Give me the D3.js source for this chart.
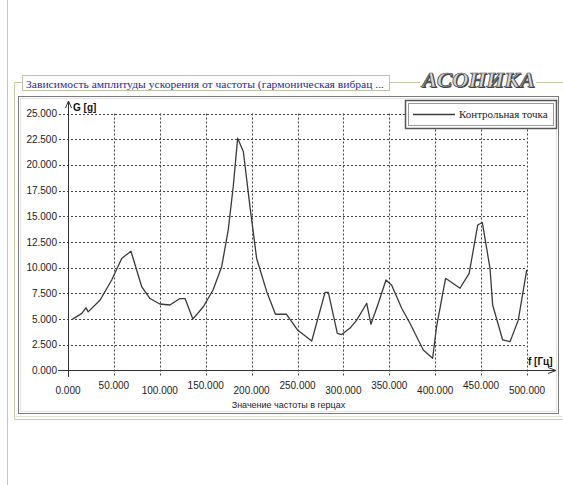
<!DOCTYPE html>
<html>
<head>
<meta charset="utf-8">
<script src="https://cdn.jsdelivr.net/npm/d3@7"></script>
<style>
  html, body { margin: 0; padding: 0; background: #ffffff; }
  svg { display: block; }
</style>
</head>
<body>
<svg id="chart" width="563" height="485"></svg>
<script>
// Frequency (Hz) and acceleration amplitude (g) at the control point
const freqHz = [5, 15, 19.6, 22, 35, 47.6, 58.5, 68.6, 80.3, 89.3, 100, 111, 122, 127.5, 136, 147.4,
  158, 167.4, 174.6, 180, 184.8, 191, 198.3, 205.5, 216.5, 226, 238, 250, 265.5, 280, 283.6, 293.4,
  298, 307, 314.5, 325.4, 330, 337.4, 346.4, 352.6, 363.5, 372.5, 387, 397.2, 401.5, 411.3, 427,
  437, 446.3, 451.3, 459.7, 462.6, 473.5, 481.5, 490.5, 499.7];
const amplitudeG = [5.0, 5.56, 6.1, 5.7, 6.86, 8.8, 10.9, 11.6, 8.15, 7.0, 6.47, 6.37, 7.0, 7.0, 5.0, 6.2,
  7.83, 10.1, 13.7, 17.9, 22.6, 21.3, 15.9, 10.9, 7.67, 5.47, 5.47, 3.94, 2.87, 7.6, 7.6, 3.62,
  3.5, 4.1, 4.9, 6.54, 4.5, 6.37, 8.8, 8.3, 6.05, 4.6, 2.0, 1.19, 4.26, 8.97, 8.0,
  9.45, 14.15, 14.4, 9.94, 6.37, 2.97, 2.8, 4.9, 9.78];
const xTicks = [0, 50, 100, 150, 200, 250, 300, 350, 400, 450, 500];
const yTicks = [0, 2.5, 5, 7.5, 10, 12.5, 15, 17.5, 20, 22.5, 25];
const titleText = "Зависимость амплитуды ускорения от частоты (гармоническая вибрац ...";
const seriesName = "Контрольная точка";
const xAxisTitle = "Значение частоты в герцах";
const xUnit = "f [Гц]";
const yUnit = "G [g]";
const brand = "АСОНИКА";

const svg = d3.select("#chart");
const sans = "'Liberation Sans', Arial, sans-serif";
const serif = "'Liberation Serif', 'Times New Roman', serif";

const x = d3.scaleLinear().domain([0, 500]).range([68, 527]);
const y = d3.scaleLinear().domain([0, 25]).range([370.5, 113.5]);

// page edge line
svg.append("line").attr("x1", 7.5).attr("x2", 7.5).attr("y1", 0).attr("y2", 485)
  .attr("stroke", "#c4c4c4");

// group frame (olive)
const frame = svg.append("g").attr("fill", "none").attr("stroke", "#c9c9a6");
frame.append("path").attr("d", "M22,82.5 H14.5 V419.5 H563");
frame.append("path").attr("d", "M390,82.5 H420");
frame.append("path").attr("d", "M536,82.5 H563");

// inner panel
svg.append("rect").attr("x", 18.5).attr("y", 96.5).attr("width", 540).attr("height", 317)
  .attr("fill", "#ffffff").attr("stroke", "#7a7a7a");
svg.append("rect").attr("x", 20.5).attr("y", 98.5).attr("width", 536).attr("height", 313)
  .attr("fill", "none").attr("stroke", "#e4e4e4");
svg.append("path").attr("d", "M15.5,416.5 H562").attr("stroke", "#e2e2cf").attr("fill", "none");

// title box
svg.append("rect").attr("x", 22.5).attr("y", 75.5).attr("width", 367).attr("height", 15)
  .attr("fill", "#ffffff").attr("stroke", "#c2c2a8");
svg.append("text").attr("x", 26).attr("y", 87.5)
  .attr("font-family", serif).attr("font-size", 11).attr("fill", "#2a2a9a")
  .attr("textLength", 358).attr("lengthAdjust", "spacingAndGlyphs")
  .text(titleText);

// brand logo
svg.append("text").attr("x", 422).attr("y", 87)
  .attr("font-family", serif).attr("font-size", 21).attr("font-weight", "bold").attr("font-style", "italic")
  .attr("fill", "#444").attr("textLength", 113).attr("lengthAdjust", "spacingAndGlyphs")
  .attr("transform", "translate(1,1)")
  .text(brand);
svg.append("text").attr("x", 422).attr("y", 87)
  .attr("font-family", serif).attr("font-size", 21).attr("font-weight", "bold").attr("font-style", "italic")
  .attr("fill", "#d8d8d8").attr("stroke", "#3a3a3a").attr("stroke-width", 0.7)
  .attr("textLength", 113).attr("lengthAdjust", "spacingAndGlyphs")
  .text(brand);

// grid
const grid = svg.append("g").attr("stroke", "#444").attr("stroke-width", 1).attr("stroke-dasharray", "2,2");
grid.selectAll("line.h").data(yTicks.filter(d => d > 0)).join("line")
  .attr("x1", 59).attr("x2", x(500))
  .attr("y1", d => Math.round(y(d)) + 0.5).attr("y2", d => Math.round(y(d)) + 0.5);
grid.selectAll("line.v").data(xTicks.filter(d => d > 0)).join("line")
  .attr("x1", d => Math.round(x(d)) + 0.5).attr("x2", d => Math.round(x(d)) + 0.5)
  .attr("y1", y(25)).attr("y2", 377);

// axes lines with arrows
const axisG = svg.append("g").attr("stroke", "#333").attr("fill", "none");
axisG.append("line").attr("x1", 58).attr("x2", 556).attr("y1", 370.5).attr("y2", 370.5);
axisG.append("line").attr("x1", 68.5).attr("x2", 68.5).attr("y1", 377).attr("y2", 101);
svg.append("path").attr("d", "M556,370.5 l-8,-3 M556,370.5 l-8,3").attr("stroke", "#333").attr("fill", "none");
svg.append("path").attr("d", "M68.5,101 l-3,7 M68.5,101 l3,7").attr("stroke", "#333").attr("fill", "none");

// tick labels
svg.append("g").selectAll("text").data(yTicks).join("text")
  .attr("x", 57).attr("y", d => y(d) + 3.5)
  .attr("text-anchor", "end").attr("font-family", sans).attr("font-size", 10).attr("fill", "#222")
  .text(d => d3.format(".3f")(d));
svg.append("g").selectAll("text").data(xTicks).join("text")
  .attr("x", d => x(d)).attr("y", (d, i) => i % 2 === 0 ? 394 : 389)
  .attr("text-anchor", "middle").attr("font-family", sans).attr("font-size", 10).attr("fill", "#222")
  .text(d => d3.format(".3f")(d));

// axis units and title
svg.append("text").attr("x", 73).attr("y", 111)
  .attr("font-family", sans).attr("font-size", 10).attr("font-weight", "bold").attr("fill", "#111")
  .text(yUnit);
svg.append("text").attr("x", 528).attr("y", 365)
  .attr("font-family", sans).attr("font-size", 10).attr("font-weight", "bold").attr("fill", "#111")
  .text(xUnit);
svg.append("text").attr("x", 288.5).attr("y", 408)
  .attr("text-anchor", "middle").attr("font-family", sans).attr("font-size", 9).attr("fill", "#222")
  .text(xAxisTitle);

// series line
const line = d3.line().x((d, i) => x(freqHz[i])).y(d => y(d));
svg.append("path").datum(amplitudeG)
  .attr("d", line).attr("fill", "none").attr("stroke", "#3a3a3a").attr("stroke-width", 1.3)
  .attr("stroke-linejoin", "round");

// legend
const lg = svg.append("g");
lg.append("rect").attr("x", 405.5).attr("y", 100.5).attr("width", 151).attr("height", 28)
  .attr("fill", "#ffffff").attr("stroke", "#555").attr("stroke-width", 1.5);
lg.append("rect").attr("x", 408.5).attr("y", 103.5).attr("width", 145).attr("height", 22)
  .attr("fill", "none").attr("stroke", "#9a9a9a");
lg.append("line").attr("x1", 413).attr("x2", 455).attr("y1", 114.5).attr("y2", 114.5)
  .attr("stroke", "#3a3a3a").attr("stroke-width", 1.3);
lg.append("text").attr("x", 459).attr("y", 118)
  .attr("font-family", serif).attr("font-size", 11).attr("fill", "#222")
  .text(seriesName);
</script>
</body>
</html>
